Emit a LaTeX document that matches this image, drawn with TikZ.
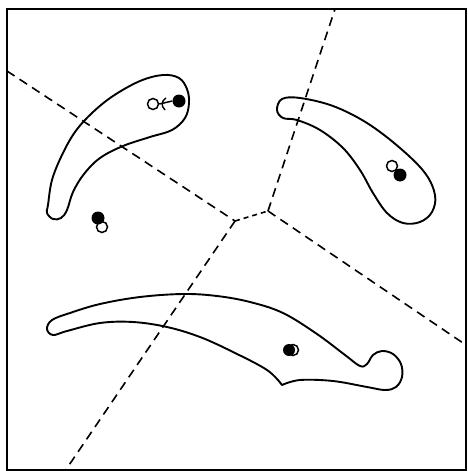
\documentclass[tikz,border=0pt]{standalone}
\begin{document}
\begin{tikzpicture}[x=1pt,y=-1pt,
  outline/.style={line width=1.9pt,line join=round},
  border/.style={line width=1.8pt},
  cell/.style={line width=1.6pt,dash pattern=on 9pt off 6pt},
  shortcell/.style={line width=1.6pt,dash pattern=on 5pt off 4pt},
  full/.style={fill=black},
  hollow/.style={draw=black,fill=white,line width=1.5pt}]
\useasboundingbox (0,0) rectangle (468,471);
\draw[border] (7,9) rectangle (466,470);
% junctions
\coordinate (A) at (235,221);
\coordinate (B) at (268,211);
\coordinate (L) at (7,71);
\coordinate (T) at (335,9);
\coordinate (R) at (466,345);
\coordinate (D) at (65,471);
\draw[cell] (L) -- (A);
\draw[shortcell] (A) -- (B);
\draw[cell] (B) -- (T);
\draw[cell] (B) -- (R);
\draw[cell] (A) -- (D);
% top-left shape
\draw[outline] plot[smooth cycle,tension=0.6] coordinates {
 (48,205) (52,180) (62,155) (75,132) (92,113) (113,96) (140,81) (163,75)
 (179,78) (187,89) (189,103) (185,118) (172,130) (150,137) (123,146)
 (100,158) (84,174) (73,192) (67,210) (61,218) (53,219) (47,213)};
% top-right shape
\draw[outline] plot[smooth cycle,tension=0.6] coordinates {
 (282,99) (300,98) (333,106) (367,123) (400,148) (425,173) (435,195)
 (432,212) (420,222) (403,223) (387,213) (373,193) (360,170) (343,148)
 (320,130) (297,120) (283,118) (277,110)};
% bottom shape
\draw[outline] plot[smooth,tension=0.6] coordinates {
 (282,385) (267,370) (233,352) (200,337) (167,327) (133,322) (100,323)
 (67,331) (53,335) (47,329) (52,320) (70,313) (100,304) (140,297)
 (183,294) (217,296) (250,302) (283,313) (317,334) (345,355) (360,366)
 (367,364) (373,355) (382,351) (393,354) (401,364) (402,377) (396,387)
 (385,390) (367,387) (333,381) (300,380) (282,385)} -- cycle;
% dots in top-left shape
\node[circle,hollow,minimum size=11pt,inner sep=0pt] (o1) at (153,104) {};
\node[circle,full,minimum size=13pt,inner sep=0pt] (f1) at (179,101) {};
\draw[line width=1.5pt] (o1.east) -- (f1.west);
\draw[line width=1.4pt] (166,98) .. controls (161,101) and (161,106) .. (165,110);
% dots in top-right shape
\node[circle,hollow,minimum size=11pt,inner sep=0pt] (o2) at (392,166) {};
\node[circle,full,minimum size=13pt,inner sep=0pt] (f2) at (400,175) {};
% lone dots
\node[circle,hollow,minimum size=11pt,inner sep=0pt] (o3) at (102,227) {};
\node[circle,full,minimum size=13pt,inner sep=0pt] (f3) at (98,218) {};
% dots in bottom shape
\node[circle,hollow,minimum size=11pt,inner sep=0pt] (o4) at (293,350) {};
\node[circle,full,minimum size=12pt,inner sep=0pt] (f4) at (289,350) {};
\end{tikzpicture}
\end{document}
